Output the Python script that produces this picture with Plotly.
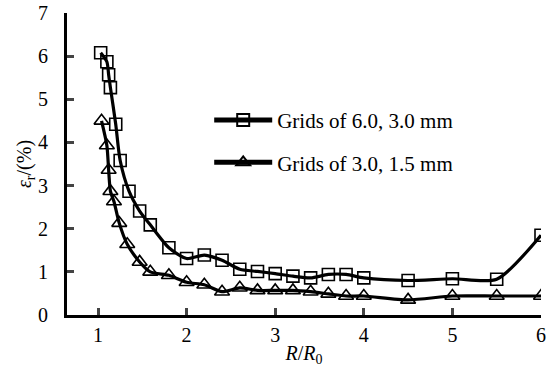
import plotly.graph_objects as go

x_sq = [1.03, 1.1, 1.12, 1.14, 1.2, 1.25, 1.35, 1.47, 1.59, 1.8, 2.0, 2.2, 2.4, 2.6, 2.8, 3.0, 3.2, 3.4, 3.6, 3.8, 4.0, 4.5, 5.0, 5.5, 6.0]
y_sq = [6.08, 5.87, 5.57, 5.27, 4.42, 3.58, 2.87, 2.41, 2.09, 1.56, 1.31, 1.39, 1.27, 1.06, 1.01, 0.96, 0.9, 0.86, 0.94, 0.94, 0.86, 0.8, 0.84, 0.83, 1.85]

x_tri = [1.04, 1.1, 1.12, 1.14, 1.18, 1.24, 1.33, 1.47, 1.59, 1.8, 2.0, 2.2, 2.4, 2.6, 2.8, 3.0, 3.2, 3.4, 3.6, 3.8, 4.0, 4.5, 5.0, 5.5, 6.0]
y_tri = [4.5, 3.93, 3.36, 2.87, 2.63, 2.13, 1.64, 1.23, 1.0, 0.92, 0.76, 0.7, 0.54, 0.63, 0.57, 0.57, 0.57, 0.54, 0.49, 0.44, 0.44, 0.35, 0.44, 0.44, 0.44]

names = ["Grids of 6.0, 3.0 mm", "Grids of 3.0, 1.5 mm"]
x_ticks = [1, 2, 3, 4, 5, 6]
y_ticks = [0, 1, 2, 3, 4, 5, 6, 7]

font = "Times New Roman, Liberation Serif, DejaVu Serif, serif"

fig = go.Figure()
fig.add_trace(go.Scatter(
    x=x_sq, y=y_sq, name=names[0], mode="lines+markers", legendgroup="a",
    line=dict(color="black", width=3.2, shape="spline", smoothing=0.7),
    marker=dict(symbol="square-open", size=12, color="black", line=dict(width=1.6)),
))
fig.add_trace(go.Scatter(
    x=x_tri, y=y_tri, name=names[1], mode="lines+markers", legendgroup="b",
    line=dict(color="black", width=3.2, shape="spline", smoothing=0.7),
    marker=dict(symbol="triangle-up-open", size=13, color="black", line=dict(width=1.6)),
))

fig.update_layout(
    width=557, height=374,
    margin=dict(l=67, r=16, t=13, b=59, autoexpand=False),
    paper_bgcolor="white", plot_bgcolor="white",
    font=dict(family=font, size=20, color="black"),
    showlegend=True,
    legend=dict(x=0.30, y=0.575, xanchor="left", yanchor="middle",
                font=dict(size=21, family=font), bgcolor="rgba(0,0,0,0)",
                tracegroupgap=12, itemsizing="constant", itemwidth=58),
    xaxis=dict(range=[0.65, 6.0], tickvals=x_ticks, ticks="inside", ticklen=7, tickwidth=3,
               showline=True, linewidth=3, linecolor="black", showgrid=False, zeroline=False,
               automargin=False,
               tickfont=dict(size=20, family=font),
               title=dict(text="<i>R</i>/<i>R</i><sub>0</sub>", font=dict(size=20, family=font), standoff=1)),
    yaxis=dict(range=[0, 7], tickvals=y_ticks, ticks="inside", ticklen=7, tickwidth=3,
               showline=True, linewidth=3, linecolor="black", showgrid=False, zeroline=False,
               automargin=False, ticklabelstandoff=12,
               tickfont=dict(size=20, family=font),
               title=dict(text="<i>ε</i><sub>r</sub>/(%)", font=dict(size=20, family=font), standoff=0)),
)

fig.write_html("out.html", config={"displayModeBar": False},
               post_script="document.body.style.margin='0';document.body.style.overflow='hidden';")
